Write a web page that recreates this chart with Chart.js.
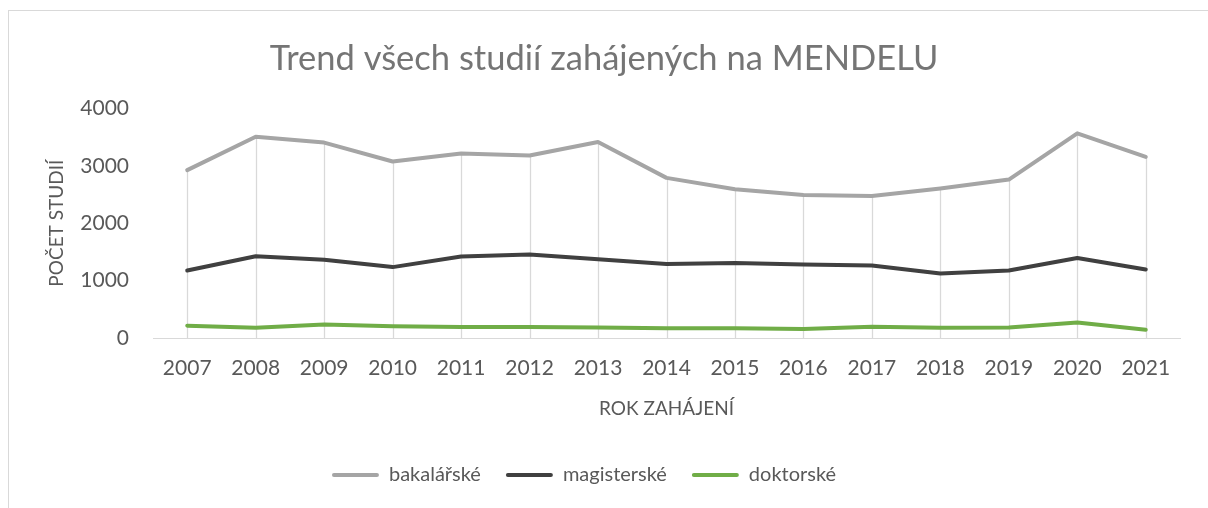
<!DOCTYPE html>
<html>
<head>
<meta charset="utf-8">
<script src="https://cdn.jsdelivr.net/npm/chart.js@4"></script>
<style>
  html, body { margin: 0; padding: 0; background: #fff; overflow: hidden; }
  #frame { position: absolute; left: 8px; top: 10px; width: 1300px; height: 600px; border-left: 1px solid #d9d9d9; border-top: 1px solid #d9d9d9; }
  #wrap { position: absolute; left: 0; top: 0; width: 1208px; height: 508px; }
</style>
</head>
<body>
<div id="frame"></div>
<div id="wrap"><canvas id="chart" width="1208" height="508"></canvas></div>
<script>
const years = ['2007', '2008', '2009', '2010', '2011', '2012', '2013', '2014', '2015', '2016', '2017', '2018', '2019', '2020', '2021'];
const bakalarske = [2925, 3505, 3405, 3075, 3215, 3180, 3415, 2790, 2590, 2490, 2475, 2605, 2760, 3565, 3155];
const magisterske = [1175, 1425, 1365, 1235, 1420, 1455, 1370, 1290, 1305, 1280, 1265, 1125, 1175, 1395, 1195];
const doktorske = [215, 180, 235, 205, 190, 190, 185, 170, 170, 155, 195, 180, 185, 270, 145];
const yTicks = [0, 1000, 2000, 3000, 4000];

const FONT = 'Lato, "Open Sans", sans-serif';
const TEXT = '#595959';

// svislé spojnice od nejvyšší hodnoty k ose
const dropLines = {
  id: 'dropLines',
  beforeDatasetsDraw(chart) {
    const { ctx, scales: { x, y } } = chart;
    ctx.save();
    ctx.strokeStyle = '#d9d9d9';
    ctx.lineWidth = 1.3;
    years.forEach((yr, i) => {
      const top = Math.max(bakalarske[i], magisterske[i], doktorske[i]);
      const px = Math.round(x.getPixelForValue(i)) + 0.5;
      ctx.beginPath();
      ctx.moveTo(px, y.getPixelForValue(top));
      ctx.lineTo(px, y.getPixelForValue(0));
      ctx.stroke();
    });
    ctx.restore();
  }
};

// legenda je v originále posunutá trochu doleva
const legendShift = {
  id: 'legendShift',
  afterLayout(chart) {
    if (chart.legend) chart.legend.right -= 40;
  }
};

function series(label, data, color) {
  return {
    label, data,
    borderColor: color, backgroundColor: color,
    borderWidth: 4, pointRadius: 0, tension: 0,
    borderCapStyle: 'round', borderJoinStyle: 'round'
  };
}

new Chart(document.getElementById('chart'), {
  type: 'line',
  data: {
    labels: years,
    datasets: [
      series('bakalářské', bakalarske, '#a5a5a5'),
      series('magisterské', magisterske, '#404040'),
      series('doktorské', doktorske, '#70ad47')
    ]
  },
  plugins: [dropLines, legendShift],
  options: {
    responsive: false,
    animation: false,
    layout: { padding: { left: 0, right: 0, top: 0, bottom: 13 } },
    plugins: {
      title: {
        display: true,
        text: 'Trend všech studií zahájených na MENDELU',
        color: '#757575',
        font: { family: FONT, size: 34.5, weight: 'normal' },
        padding: { top: 38, bottom: 29 }
      },
      legend: {
        position: 'bottom',
        labels: {
          color: TEXT,
          font: { family: FONT, size: 20 },
          boxWidth: 47, boxHeight: 4, padding: 25,
          generateLabels(chart) {
            return Chart.defaults.plugins.legend.labels.generateLabels(chart).map(l => ({ ...l, lineWidth: 0, borderRadius: 2 }));
          }
        }
      },
      tooltip: { enabled: false }
    },
    scales: {
      x: {
        offset: true,
        grid: { display: false, drawTicks: false },
        border: { display: true, color: '#d9d9d9', width: 1 },
        ticks: { color: TEXT, font: { family: FONT, size: 21 }, padding: 18, maxRotation: 0 },
        title: { display: true, text: 'ROK ZAHÁJENÍ', color: TEXT, font: { family: FONT, size: 19 }, padding: { top: 0, bottom: 20 } },
        afterFit(scale) { scale.height = 102; }
      },
      y: {
        min: 0, max: 4000,
        afterBuildTicks(scale) { scale.ticks = yTicks.map(v => ({ value: v })); },
        grid: { display: false, drawTicks: false },
        border: { display: false },
        ticks: { color: TEXT, font: { family: FONT, size: 21 }, padding: 24, callback: v => String(v) },
        title: { display: true, text: 'POČET STUDIÍ', color: TEXT, font: { family: FONT, size: 19 }, padding: { top: 45, bottom: 0 } },
        afterFit(scale) { scale.width = 153; }
      },
      // prázdný pravý okraj, aby byl nadpis vystředěný na celé ploše
      yr: {
        position: 'right',
        display: true,
        grid: { display: false, drawTicks: false },
        border: { display: false },
        ticks: { display: false },
        afterFit(scale) { scale.width = 28; }
      }
    }
  }
});
</script>
</body>
</html>
